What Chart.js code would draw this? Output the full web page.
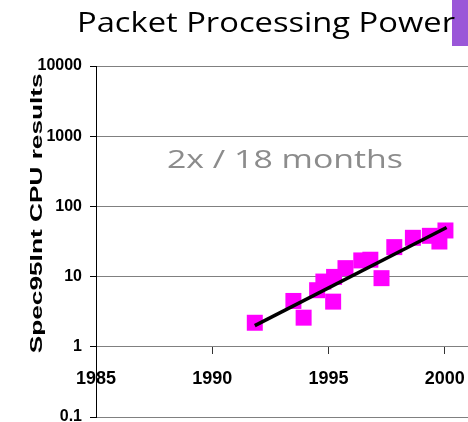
<!DOCTYPE html>
<html><head><meta charset="utf-8">
<script src="https://cdn.jsdelivr.net/npm/chart.js@4/dist/chart.umd.min.js"></script>
<style>html,body{margin:0;padding:0;background:#fff;overflow:hidden}#wrap{width:468px;height:422px;position:relative}</style>
</head><body><div id="wrap"><canvas id="c" width="468" height="422"></canvas></div>
<script>
// ---- data ----
const years = [1991.83, 1993.49, 1993.93, 1994.51, 1994.78, 1995.20, 1995.24, 1995.73, 1996.41, 1996.80, 1997.28, 1997.83, 1998.63, 1999.36, 1999.77, 2000.03];
const specValues = [2.2, 4.5, 2.6, 6.4, 8.5, 4.4, 9.9, 13.2, 17.0, 17.4, 9.5, 26.3, 35.7, 38.1, 31.6, 45.4];
const trendYears = [1991.83, 2000.08];
const trendValues = [2.0, 50];
const xTickYears = [1985, 1990, 1995, 2000];
const yTickValues = [0.1, 1, 10, 100, 1000, 10000];
const chartTitle = 'Packet Processing Power';
const yAxisTitle = 'Spec95Int CPU results';
const annotationText = '2x / 18 months';

function drawStretched(ctx, text, font, color, x, y, targetW, angle) {
  ctx.save();
  ctx.font = font;
  ctx.fillStyle = color;
  ctx.textAlign = 'left';
  ctx.textBaseline = 'alphabetic';
  const w = ctx.measureText(text).width;
  ctx.translate(x, y);
  if (angle) ctx.rotate(angle);
  ctx.scale(targetW / w, 1);
  ctx.fillText(text, -w / 2, 0);
  ctx.restore();
}

const decor = {
  id: 'decor',
  beforeDraw(chart) {
    const ctx = chart.ctx;
    ctx.save();
    ctx.fillStyle = '#ffffff';
    ctx.fillRect(0, 0, chart.width, chart.height);
    ctx.fillStyle = '#9a57d8';
    ctx.fillRect(452, 0, 16, 46);
    ctx.restore();
  },
  afterDraw(chart) {
    const ctx = chart.ctx;
    drawStretched(ctx, chartTitle, '27px "Comic Sans MS", "Open Sans", sans-serif', '#000', 266, 32, 378, 0);
    drawStretched(ctx, annotationText, '25px "Comic Sans MS", "Open Sans", sans-serif', '#8c8c8c', 285, 168, 236, 0);
    drawStretched(ctx, yAxisTitle, 'bold 16px "Liberation Sans", Arial, sans-serif', '#000', 41.5, 213.3, 280, -Math.PI / 2);
  }
};

const tickFont = { family: '"Liberation Sans", Arial, sans-serif', weight: 'bold' };

new Chart(document.getElementById('c'), {
  data: {
    datasets: [
      {
        type: 'line',
        data: trendYears.map((x, i) => ({ x, y: trendValues[i] })),
        borderColor: '#000',
        borderWidth: 3.5,
        pointRadius: 0,
        fill: false,
        order: 0
      },
      {
        type: 'scatter',
        data: years.map((x, i) => ({ x, y: specValues[i] })),
        pointStyle: 'rect',
        pointRadius: 11.3,
        backgroundColor: '#ff00ff',
        borderColor: '#ff00ff',
        borderWidth: 0,
        order: 1
      }
    ]
  },
  options: {
    responsive: false,
    animation: false,
    events: [],
    layout: { autoPadding: false, padding: { top: 66, bottom: 5, left: 0, right: 0 } },
    plugins: { legend: { display: false }, tooltip: { enabled: false }, title: { display: false } },
    scales: {
      x: {
        type: 'linear',
        position: { y: 1 },
        min: 1985,
        max: 2001,
        afterBuildTicks: (s) => { s.ticks = xTickYears.map(v => ({ value: v })); },
        afterFit: (s) => { s.paddingLeft = 0; s.paddingRight = 0; },
        border: { color: '#808080', width: 1 },
        grid: { drawOnChartArea: false, tickLength: 7, tickColor: '#333' },
        ticks: { color: '#000', font: { ...tickFont, size: 18 }, padding: 14, maxRotation: 0, autoSkip: false, callback: (v) => String(v) }
      },
      y: {
        type: 'logarithmic',
        min: 0.1,
        max: 10000,
        afterBuildTicks: (s) => { s.ticks = yTickValues.map(v => ({ value: v })); },
        afterFit: (s) => { s.width = 96; s.paddingTop = 0; s.paddingBottom = 0; },
        border: { color: '#000', width: 1 },
        grid: { color: '#808080', lineWidth: 1, tickLength: 6, tickColor: '#000' },
        ticks: { color: '#000', font: { ...tickFont, size: 16 }, padding: 8, autoSkip: false, callback: (v) => String(v) }
      }
    }
  },
  plugins: [decor]
});
</script>
</body></html>
